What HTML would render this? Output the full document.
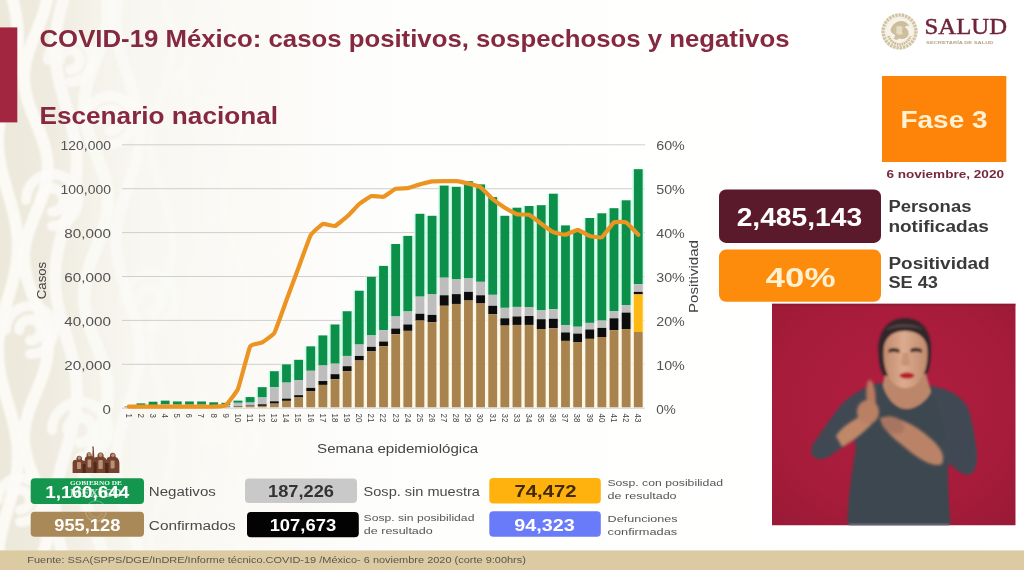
<!DOCTYPE html>
<html lang="es"><head><meta charset="utf-8"><title>COVID-19 México</title>
<style>
html,body{margin:0;padding:0;background:#fff;}
body{width:1024px;height:570px;overflow:hidden;font-family:"Liberation Sans",sans-serif;}
svg{display:block;font-family:"Liberation Sans",sans-serif;}
.ax{font-size:13.3px;fill:#535353;}
.xt{font-size:8.8px;fill:#444;}
.al{font-size:12.3px;fill:#444;}
.t1{font-size:23.6px;font-weight:bold;fill:#86283f;}
.lg{font-size:12.3px;fill:#4a4a4a;}
.ls{font-size:9.9px;fill:#555;}
.num{font-size:16.6px;font-weight:bold;}
.big{font-size:26px;font-weight:bold;}
.side{font-size:16.8px;font-weight:bold;fill:#3a3a3a;}
</style></head><body>
<svg width="1024" height="570" viewBox="0 0 1024 570">
<defs>
<linearGradient id="lg" x1="0" x2="1" y1="0" y2="0">
<stop offset="0" stop-color="#ece8da"/><stop offset="0.05" stop-color="#efebe0"/><stop offset="0.09" stop-color="#f4f2e9"/><stop offset="0.14" stop-color="#f8f7f1"/><stop offset="0.25" stop-color="#fbfaf7"/><stop offset="0.4" stop-color="#fefefd"/><stop offset="1" stop-color="#ffffff"/>
</linearGradient>
<filter id="b3"><feGaussianBlur stdDeviation="3"/></filter>
<filter id="b2"><feGaussianBlur stdDeviation="1.6"/></filter>
<filter id="b1"><feGaussianBlur stdDeviation="0.8"/></filter>
<filter id="b05"><feGaussianBlur stdDeviation="0.35"/></filter>
<filter id="b6"><feGaussianBlur stdDeviation="5"/></filter>
</defs>
<rect width="1024" height="570" fill="url(#lg)"/>
<g fill="none" stroke="#fcfbf7" stroke-linecap="round" stroke-linejoin="round" filter="url(#b1)">
<path d="M10.0 -10.0 L13.3 2.0 L15.9 14.0 L17.6 26.0 L18.0 38.0 L17.1 50.0 L15.1 62.0 L12.1 74.0 L8.7 86.0 L5.1 98.0 L2.0 110.0 L-0.5 122.0 L-1.8 134.0 L-1.9 146.0 L-0.7 158.0 L1.6 170.0 L4.7 182.0 L8.2 194.0 L11.7 206.0 L14.7 218.0 L16.9 230.0 L17.9 242.0 L17.7 254.0 L16.2 266.0 L13.7 278.0 L10.5 290.0 L6.9 302.0 L3.5 314.0 L0.6 326.0 L-1.3 338.0 L-2.0 350.0 L-1.4 362.0 L0.3 374.0 L3.1 386.0 L6.4 398.0 L10.0 410.0 L13.3 422.0 L15.9 434.0 L17.6 446.0 L18.0 458.0 L17.1 470.0 L15.1 482.0 L12.1 494.0 L8.7 506.0 L5.1 518.0 L2.0 530.0 L-0.5 542.0 L-1.8 554.0" stroke-width="12" opacity="0.95"/>
<path d="M48.0 -10.0 L46.5 2.0 L43.3 14.0 L38.8 26.0 L33.8 38.0 L29.2 50.0 L25.8 62.0 L24.1 74.0 L24.5 86.0 L26.9 98.0 L30.9 110.0 L35.7 122.0 L40.6 134.0 L44.7 146.0 L47.3 158.0 L48.0 170.0 L46.5 182.0 L43.3 194.0 L38.8 206.0 L33.8 218.0 L29.2 230.0 L25.8 242.0 L24.1 254.0 L24.5 266.0 L26.9 278.0 L30.9 290.0 L35.7 302.0 L40.6 314.0 L44.7 326.0 L47.3 338.0 L48.0 350.0 L46.5 362.0 L43.3 374.0 L38.8 386.0 L33.8 398.0 L29.2 410.0 L25.8 422.0 L24.1 434.0 L24.5 446.0 L26.9 458.0 L30.9 470.0 L35.7 482.0 L40.6 494.0 L44.7 506.0 L47.3 518.0 L48.0 530.0 L46.5 542.0 L43.3 554.0" stroke-width="12" opacity="0.95"/>
<path d="M66.2 -10.0 L62.6 2.0 L59.4 14.0 L56.9 26.0 L55.4 38.0 L55.0 50.0 L55.8 62.0 L57.7 74.0 L60.4 86.0 L63.7 98.0 L67.3 110.0 L70.8 122.0 L73.7 134.0 L75.8 146.0 L76.9 158.0 L76.8 170.0 L75.6 182.0 L73.3 194.0 L70.3 206.0 L66.8 218.0 L63.2 230.0 L59.9 242.0 L57.3 254.0 L55.6 266.0 L55.0 278.0 L55.6 290.0 L57.3 302.0 L59.9 314.0 L63.2 326.0 L66.7 338.0 L70.2 350.0 L73.3 362.0 L75.5 374.0 L76.8 386.0 L76.9 398.0 L75.8 410.0 L73.7 422.0 L70.8 434.0 L67.4 446.0 L63.8 458.0 L60.4 470.0 L57.7 482.0 L55.8 494.0 L55.0 506.0 L55.4 518.0 L56.9 530.0 L59.4 542.0 L62.6 554.0" stroke-width="12" opacity="0.9"/>
<path d="M105.2 -10.0 L107.4 2.0 L107.9 14.0 L106.6 26.0 L103.6 38.0 L99.4 50.0 L94.7 62.0 L90.2 74.0 L86.6 86.0 L84.4 98.0 L84.1 110.0 L85.6 122.0 L88.7 134.0 L93.0 146.0 L97.7 158.0 L102.2 170.0 L105.7 182.0 L107.7 194.0 L107.8 206.0 L106.2 218.0 L103.0 230.0 L98.6 242.0 L93.9 254.0 L89.5 266.0 L86.1 278.0 L84.3 290.0 L84.2 302.0 L86.0 314.0 L89.4 326.0 L93.7 338.0 L98.5 350.0 L102.8 362.0 L106.1 374.0 L107.8 386.0 L107.7 398.0 L105.8 410.0 L102.3 422.0 L97.9 434.0 L93.1 446.0 L88.9 458.0 L85.7 470.0 L84.1 482.0 L84.4 494.0 L86.5 506.0 L90.0 518.0 L94.5 530.0 L99.2 542.0 L103.5 554.0" stroke-width="12" opacity="0.85"/>
<path d="M120.5 -10.0 L117.8 2.0 L116.3 14.0 L116.1 26.0 L117.3 38.0 L119.8 50.0 L123.2 62.0 L127.2 74.0 L131.2 86.0 L134.9 98.0 L137.8 110.0 L139.6 122.0 L140.0 134.0 L139.0 146.0 L136.7 158.0 L133.4 170.0 L129.5 182.0 L125.4 194.0 L121.6 206.0 L118.6 218.0 L116.6 230.0 L116.0 242.0 L116.8 254.0 L118.8 266.0 L122.0 278.0 L125.8 290.0 L129.9 302.0 L133.8 314.0 L137.0 326.0 L139.1 338.0 L140.0 350.0 L139.5 362.0 L137.6 374.0 L134.6 386.0 L130.9 398.0 L126.8 410.0 L122.8 422.0 L119.5 434.0 L117.1 446.0 L116.1 458.0 L116.4 470.0 L118.0 482.0 L120.8 494.0 L124.5 506.0 L128.5 518.0 L132.5 530.0 L136.0 542.0 L138.5 554.0" stroke-width="11" opacity="0.75"/>
<path d="M160.7 -10.0 L164.9 2.0 L168.6 14.0 L171.4 26.0 L172.8 38.0 L172.8 50.0 L171.2 62.0 L168.4 74.0 L164.6 86.0 L160.5 98.0 L156.6 110.0 L153.4 122.0 L151.5 134.0 L151.0 146.0 L152.1 158.0 L154.6 170.0 L158.1 182.0 L162.1 194.0 L166.2 206.0 L169.6 218.0 L172.0 230.0 L173.0 242.0 L172.4 254.0 L170.4 266.0 L167.2 278.0 L163.3 290.0 L159.1 302.0 L155.4 314.0 L152.6 326.0 L151.2 338.0 L151.2 350.0 L152.8 362.0 L155.6 374.0 L159.4 386.0 L163.5 398.0 L167.4 410.0 L170.6 422.0 L172.5 434.0 L173.0 446.0 L171.9 458.0 L169.4 470.0 L165.9 482.0 L161.9 494.0 L157.8 506.0 L154.4 518.0 L152.0 530.0 L151.0 542.0 L151.6 554.0" stroke-width="8" opacity="0.55"/>
<path d="M205.8 -10.0 L202.6 2.0 L198.9 14.0 L195.2 26.0 L191.7 38.0 L188.8 50.0 L186.9 62.0 L186.0 74.0 L186.3 86.0 L187.8 98.0 L190.2 110.0 L193.4 122.0 L197.1 134.0 L200.8 146.0 L204.3 158.0 L207.2 170.0 L209.1 182.0 L210.0 194.0 L209.7 206.0 L208.2 218.0 L205.8 230.0 L202.6 242.0 L198.9 254.0 L195.2 266.0 L191.7 278.0 L188.8 290.0 L186.9 302.0 L186.0 314.0 L186.3 326.0 L187.8 338.0 L190.2 350.0 L193.4 362.0 L197.1 374.0 L200.8 386.0 L204.3 398.0 L207.2 410.0 L209.1 422.0 L210.0 434.0 L209.7 446.0 L208.2 458.0 L205.8 470.0 L202.6 482.0 L198.9 494.0 L195.2 506.0 L191.7 518.0 L188.8 530.0 L186.9 542.0 L186.0 554.0" stroke-width="8" opacity="0.45"/>
<path d="M225.0 -10.0 L225.7 2.0 L227.6 14.0 L230.7 26.0 L234.4 38.0 L238.3 50.0 L242.0 62.0 L244.8 74.0 L246.6 86.0 L247.0 98.0 L246.0 110.0 L243.7 122.0 L240.4 134.0 L236.6 146.0 L232.7 158.0 L229.2 170.0 L226.6 182.0 L225.2 194.0 L225.2 206.0 L226.5 218.0 L229.0 230.0 L232.5 242.0 L236.4 254.0 L240.2 266.0 L243.5 278.0 L245.9 290.0 L246.9 302.0 L246.6 314.0 L245.0 326.0 L242.2 338.0 L238.6 350.0 L234.6 362.0 L230.9 374.0 L227.8 386.0 L225.7 398.0 L225.0 410.0 L225.7 422.0 L227.6 434.0 L230.7 446.0 L234.4 458.0 L238.3 470.0 L242.0 482.0 L244.8 494.0 L246.6 506.0 L247.0 518.0 L246.0 530.0 L243.7 542.0 L240.4 554.0" stroke-width="8" opacity="0.35"/>
<path d="M283.4 -10.0 L286.5 2.0 L287.9 14.0 L287.5 26.0 L285.3 38.0 L281.6 50.0 L277.1 62.0 L272.4 74.0 L268.2 86.0 L265.3 98.0 L264.0 110.0 L264.6 122.0 L267.0 134.0 L270.7 146.0 L275.3 158.0 L280.0 170.0 L284.1 182.0 L286.9 194.0 L288.0 206.0 L287.3 218.0 L284.8 230.0 L280.9 242.0 L276.3 254.0 L271.6 266.0 L267.7 278.0 L265.0 290.0 L264.0 302.0 L264.9 314.0 L267.5 326.0 L271.4 338.0 L276.1 350.0 L280.7 362.0 L284.6 374.0 L287.2 386.0 L288.0 398.0 L287.0 410.0 L284.2 422.0 L280.2 434.0 L275.5 446.0 L270.9 458.0 L267.1 470.0 L264.7 482.0 L264.0 494.0 L265.2 506.0 L268.1 518.0 L272.2 530.0 L276.9 542.0 L281.4 554.0" stroke-width="8" opacity="0.25"/>
<path d="M322.8 -10.0 L319.0 2.0 L315.1 14.0 L311.5 26.0 L308.6 38.0 L306.7 50.0 L306.0 62.0 L306.6 74.0 L308.4 86.0 L311.2 98.0 L314.7 110.0 L318.6 122.0 L322.4 134.0 L325.8 146.0 L328.3 158.0 L329.7 170.0 L329.9 182.0 L328.8 194.0 L326.6 206.0 L323.4 218.0 L319.7 230.0 L315.8 242.0 L312.1 254.0 L309.0 266.0 L307.0 278.0 L306.0 290.0 L306.4 302.0 L308.0 314.0 L310.6 326.0 L314.1 338.0 L317.9 350.0 L321.8 362.0 L325.3 374.0 L328.0 386.0 L329.6 398.0 L330.0 410.0 L329.1 422.0 L327.0 434.0 L324.0 446.0 L320.3 458.0 L316.4 470.0 L312.7 482.0 L309.5 494.0 L307.2 506.0 L306.1 518.0 L306.2 530.0 L307.6 542.0 L310.1 554.0" stroke-width="8" opacity="0.18"/>
<path d="M26 200 A26 26 0 1 1 52 226 M40.3 200 A11.7 11.7 0 1 1 52 211.7" stroke-width="10" opacity="0.9"/>
<path d="M6 330 A24 24 0 1 1 30 354 M19.2 330 A10.8 10.8 0 1 1 30 340.8" stroke-width="10" opacity="0.9"/>
<path d="M52 430 A28 28 0 1 1 80 458 M67.4 430 A12.6 12.6 0 1 1 80 442.6" stroke-width="10" opacity="0.85"/>
<path d="M86 120 A24 24 0 1 1 110 144 M99.2 120 A10.8 10.8 0 1 1 110 130.8" stroke-width="10" opacity="0.8"/>
<path d="M-2 500 A22 22 0 1 1 20 522 M10.1 500 A9.9 9.9 0 1 1 20 509.9" stroke-width="10" opacity="0.9"/>
<path d="M124 300 A26 26 0 1 1 150 326 M138.3 300 A11.7 11.7 0 1 1 150 311.7" stroke-width="10" opacity="0.55"/>
<path d="M174 90 A26 26 0 1 1 200 116 M188.3 90 A11.7 11.7 0 1 1 200 101.7" stroke-width="10" opacity="0.45"/>
<path d="M48 60 A22 22 0 1 1 70 82 M60.1 60 A9.9 9.9 0 1 1 70 69.9" stroke-width="10" opacity="0.8"/>
<path d="M204 440 A26 26 0 1 1 230 466 M218.3 440 A11.7 11.7 0 1 1 230 451.7" stroke-width="10" opacity="0.35"/>
</g>

<rect x="0" y="27.4" width="17.3" height="95" fill="#a2263f"/>
<rect x="0" y="550.4" width="1024" height="19.6" fill="#dccaa3"/>
<text x="39.5" y="46.8" class="t1" textLength="750" lengthAdjust="spacingAndGlyphs">COVID-19 México: casos positivos, sospechosos y negativos</text>
<text x="39.5" y="124.4" class="t1" style="font-size:23.4px" textLength="238.5" lengthAdjust="spacingAndGlyphs">Escenario nacional</text>
<line x1="122" x2="645" y1="408.2" y2="408.2" stroke="#cfcfcd" stroke-width="1"/>
<line x1="122" x2="645" y1="364.3" y2="364.3" stroke="#cfcfcd" stroke-width="1"/>
<line x1="122" x2="645" y1="320.4" y2="320.4" stroke="#cfcfcd" stroke-width="1"/>
<line x1="122" x2="645" y1="276.5" y2="276.5" stroke="#cfcfcd" stroke-width="1"/>
<line x1="122" x2="645" y1="232.6" y2="232.6" stroke="#cfcfcd" stroke-width="1"/>
<line x1="122" x2="645" y1="188.7" y2="188.7" stroke="#cfcfcd" stroke-width="1"/>
<line x1="122" x2="645" y1="144.8" y2="144.8" stroke="#cfcfcd" stroke-width="1"/>
<g opacity="0.85" filter="url(#b05)"><rect x="231.87" y="400.63" width="12.20" height="2.19" fill="#cdfbe8"/><rect x="231.87" y="402.82" width="12.20" height="3.28" fill="#f3f3f1"/><rect x="231.87" y="406.10" width="12.20" height="0.55" fill="#ecebe8"/><rect x="231.87" y="406.64" width="12.20" height="0.66" fill="#fdf7e3"/><rect x="244.00" y="397.07" width="12.20" height="5.47" fill="#cdfbe8"/><rect x="244.00" y="402.54" width="12.20" height="3.01" fill="#f3f3f1"/><rect x="244.00" y="405.55" width="12.20" height="0.55" fill="#ecebe8"/><rect x="244.00" y="406.10" width="12.20" height="1.20" fill="#fdf7e3"/><rect x="256.13" y="387.18" width="12.20" height="10.26" fill="#cdfbe8"/><rect x="256.13" y="397.45" width="12.20" height="6.84" fill="#f3f3f1"/><rect x="256.13" y="404.29" width="12.20" height="1.60" fill="#ecebe8"/><rect x="256.13" y="405.88" width="12.20" height="1.42" fill="#fdf7e3"/><rect x="268.26" y="371.22" width="12.20" height="15.96" fill="#cdfbe8"/><rect x="268.26" y="387.18" width="12.20" height="14.14" fill="#f3f3f1"/><rect x="268.26" y="401.32" width="12.20" height="2.28" fill="#ecebe8"/><rect x="268.26" y="403.60" width="12.20" height="3.70" fill="#fdf7e3"/><rect x="280.39" y="364.38" width="12.20" height="18.24" fill="#cdfbe8"/><rect x="280.39" y="382.62" width="12.20" height="15.96" fill="#f3f3f1"/><rect x="280.39" y="398.59" width="12.20" height="2.28" fill="#ecebe8"/><rect x="280.39" y="400.87" width="12.20" height="6.43" fill="#fdf7e3"/><rect x="292.52" y="359.82" width="12.20" height="20.52" fill="#cdfbe8"/><rect x="292.52" y="380.34" width="12.20" height="14.82" fill="#f3f3f1"/><rect x="292.52" y="395.17" width="12.20" height="2.28" fill="#ecebe8"/><rect x="292.52" y="397.45" width="12.20" height="9.85" fill="#fdf7e3"/><rect x="304.65" y="346.36" width="12.20" height="24.40" fill="#cdfbe8"/><rect x="304.65" y="370.76" width="12.20" height="17.10" fill="#f3f3f1"/><rect x="304.65" y="387.87" width="12.20" height="3.19" fill="#ecebe8"/><rect x="304.65" y="391.06" width="12.20" height="16.24" fill="#fdf7e3"/><rect x="316.78" y="335.42" width="12.20" height="30.10" fill="#cdfbe8"/><rect x="316.78" y="365.52" width="12.20" height="15.51" fill="#f3f3f1"/><rect x="316.78" y="381.03" width="12.20" height="3.88" fill="#ecebe8"/><rect x="316.78" y="384.90" width="12.20" height="22.40" fill="#fdf7e3"/><rect x="328.91" y="324.47" width="12.20" height="39.22" fill="#cdfbe8"/><rect x="328.91" y="363.69" width="12.20" height="10.49" fill="#f3f3f1"/><rect x="328.91" y="374.18" width="12.20" height="5.02" fill="#ecebe8"/><rect x="328.91" y="379.20" width="12.20" height="28.10" fill="#fdf7e3"/><rect x="341.04" y="311.24" width="12.20" height="44.70" fill="#cdfbe8"/><rect x="341.04" y="355.94" width="12.20" height="10.26" fill="#f3f3f1"/><rect x="341.04" y="366.20" width="12.20" height="5.02" fill="#ecebe8"/><rect x="341.04" y="371.22" width="12.20" height="36.08" fill="#fdf7e3"/><rect x="353.17" y="290.72" width="12.20" height="53.82" fill="#cdfbe8"/><rect x="353.17" y="344.54" width="12.20" height="11.40" fill="#f3f3f1"/><rect x="353.17" y="355.94" width="12.20" height="4.56" fill="#ecebe8"/><rect x="353.17" y="360.50" width="12.20" height="46.80" fill="#fdf7e3"/><rect x="365.30" y="276.90" width="12.20" height="58.52" fill="#cdfbe8"/><rect x="365.30" y="335.42" width="12.20" height="11.40" fill="#f3f3f1"/><rect x="365.30" y="346.82" width="12.20" height="4.56" fill="#ecebe8"/><rect x="365.30" y="351.38" width="12.20" height="55.92" fill="#fdf7e3"/><rect x="377.43" y="265.90" width="12.20" height="64.27" fill="#cdfbe8"/><rect x="377.43" y="330.17" width="12.20" height="11.40" fill="#f3f3f1"/><rect x="377.43" y="341.57" width="12.20" height="4.56" fill="#ecebe8"/><rect x="377.43" y="346.13" width="12.20" height="61.17" fill="#fdf7e3"/><rect x="389.56" y="244.00" width="12.20" height="72.49" fill="#cdfbe8"/><rect x="389.56" y="316.49" width="12.20" height="12.09" fill="#f3f3f1"/><rect x="389.56" y="328.57" width="12.20" height="5.70" fill="#ecebe8"/><rect x="389.56" y="334.28" width="12.20" height="73.02" fill="#fdf7e3"/><rect x="401.69" y="235.90" width="12.20" height="75.57" fill="#cdfbe8"/><rect x="401.69" y="311.47" width="12.20" height="13.00" fill="#f3f3f1"/><rect x="401.69" y="324.47" width="12.20" height="6.39" fill="#ecebe8"/><rect x="401.69" y="330.86" width="12.20" height="76.44" fill="#fdf7e3"/><rect x="413.82" y="213.80" width="12.20" height="82.85" fill="#cdfbe8"/><rect x="413.82" y="296.65" width="12.20" height="17.10" fill="#f3f3f1"/><rect x="413.82" y="313.75" width="12.20" height="6.84" fill="#ecebe8"/><rect x="413.82" y="320.59" width="12.20" height="86.71" fill="#fdf7e3"/><rect x="425.95" y="215.80" width="12.20" height="78.57" fill="#cdfbe8"/><rect x="425.95" y="294.37" width="12.20" height="20.52" fill="#f3f3f1"/><rect x="425.95" y="314.89" width="12.20" height="7.30" fill="#ecebe8"/><rect x="425.95" y="322.19" width="12.20" height="85.11" fill="#fdf7e3"/><rect x="438.08" y="185.60" width="12.20" height="92.10" fill="#cdfbe8"/><rect x="438.08" y="277.70" width="12.20" height="17.58" fill="#f3f3f1"/><rect x="438.08" y="295.28" width="12.20" height="10.49" fill="#ecebe8"/><rect x="438.08" y="305.77" width="12.20" height="101.53" fill="#fdf7e3"/><rect x="450.21" y="186.80" width="12.20" height="92.60" fill="#cdfbe8"/><rect x="450.21" y="279.40" width="12.20" height="14.74" fill="#f3f3f1"/><rect x="450.21" y="294.14" width="12.20" height="9.81" fill="#ecebe8"/><rect x="450.21" y="303.95" width="12.20" height="103.35" fill="#fdf7e3"/><rect x="462.34" y="181.20" width="12.20" height="97.20" fill="#cdfbe8"/><rect x="462.34" y="278.40" width="12.20" height="13.46" fill="#f3f3f1"/><rect x="462.34" y="291.86" width="12.20" height="8.67" fill="#ecebe8"/><rect x="462.34" y="300.52" width="12.20" height="106.78" fill="#fdf7e3"/><rect x="474.47" y="184.40" width="12.20" height="97.42" fill="#cdfbe8"/><rect x="474.47" y="281.82" width="12.20" height="13.45" fill="#f3f3f1"/><rect x="474.47" y="295.28" width="12.20" height="8.21" fill="#ecebe8"/><rect x="474.47" y="303.49" width="12.20" height="103.81" fill="#fdf7e3"/><rect x="486.60" y="197.10" width="12.20" height="97.72" fill="#cdfbe8"/><rect x="486.60" y="294.82" width="12.20" height="10.95" fill="#f3f3f1"/><rect x="486.60" y="305.77" width="12.20" height="8.44" fill="#ecebe8"/><rect x="486.60" y="314.21" width="12.20" height="93.09" fill="#fdf7e3"/><rect x="498.73" y="215.80" width="12.20" height="92.02" fill="#cdfbe8"/><rect x="498.73" y="307.82" width="12.20" height="10.49" fill="#f3f3f1"/><rect x="498.73" y="318.31" width="12.20" height="7.30" fill="#ecebe8"/><rect x="498.73" y="325.61" width="12.20" height="81.69" fill="#fdf7e3"/><rect x="510.86" y="207.70" width="12.20" height="99.21" fill="#cdfbe8"/><rect x="510.86" y="306.91" width="12.20" height="9.58" fill="#f3f3f1"/><rect x="510.86" y="316.49" width="12.20" height="8.44" fill="#ecebe8"/><rect x="510.86" y="324.93" width="12.20" height="82.37" fill="#fdf7e3"/><rect x="522.99" y="206.00" width="12.20" height="101.37" fill="#cdfbe8"/><rect x="522.99" y="307.37" width="12.20" height="8.67" fill="#f3f3f1"/><rect x="522.99" y="316.03" width="12.20" height="8.89" fill="#ecebe8"/><rect x="522.99" y="324.93" width="12.20" height="82.37" fill="#fdf7e3"/><rect x="535.12" y="205.20" width="12.20" height="105.13" fill="#cdfbe8"/><rect x="535.12" y="310.33" width="12.20" height="8.89" fill="#f3f3f1"/><rect x="535.12" y="319.22" width="12.20" height="9.81" fill="#ecebe8"/><rect x="535.12" y="329.03" width="12.20" height="78.27" fill="#fdf7e3"/><rect x="547.25" y="193.70" width="12.20" height="115.49" fill="#cdfbe8"/><rect x="547.25" y="309.19" width="12.20" height="9.58" fill="#f3f3f1"/><rect x="547.25" y="318.77" width="12.20" height="9.58" fill="#ecebe8"/><rect x="547.25" y="328.35" width="12.20" height="78.95" fill="#fdf7e3"/><rect x="559.38" y="225.40" width="12.20" height="99.75" fill="#cdfbe8"/><rect x="559.38" y="325.15" width="12.20" height="7.30" fill="#f3f3f1"/><rect x="559.38" y="332.45" width="12.20" height="8.44" fill="#ecebe8"/><rect x="559.38" y="340.89" width="12.20" height="66.41" fill="#fdf7e3"/><rect x="571.51" y="229.80" width="12.20" height="96.95" fill="#cdfbe8"/><rect x="571.51" y="326.75" width="12.20" height="6.84" fill="#f3f3f1"/><rect x="571.51" y="333.59" width="12.20" height="8.44" fill="#ecebe8"/><rect x="571.51" y="342.03" width="12.20" height="65.27" fill="#fdf7e3"/><rect x="583.64" y="218.00" width="12.20" height="104.87" fill="#cdfbe8"/><rect x="583.64" y="322.87" width="12.20" height="6.61" fill="#f3f3f1"/><rect x="583.64" y="329.49" width="12.20" height="9.35" fill="#ecebe8"/><rect x="583.64" y="338.84" width="12.20" height="68.46" fill="#fdf7e3"/><rect x="595.77" y="213.30" width="12.20" height="107.29" fill="#cdfbe8"/><rect x="595.77" y="320.59" width="12.20" height="7.30" fill="#f3f3f1"/><rect x="595.77" y="327.89" width="12.20" height="9.12" fill="#ecebe8"/><rect x="595.77" y="337.01" width="12.20" height="70.29" fill="#fdf7e3"/><rect x="607.90" y="208.20" width="12.20" height="103.04" fill="#cdfbe8"/><rect x="607.90" y="311.24" width="12.20" height="7.07" fill="#f3f3f1"/><rect x="607.90" y="318.31" width="12.20" height="11.86" fill="#ecebe8"/><rect x="607.90" y="330.17" width="12.20" height="77.13" fill="#fdf7e3"/><rect x="620.03" y="200.30" width="12.20" height="104.79" fill="#cdfbe8"/><rect x="620.03" y="305.09" width="12.20" height="7.53" fill="#f3f3f1"/><rect x="620.03" y="312.61" width="12.20" height="16.42" fill="#ecebe8"/><rect x="620.03" y="329.03" width="12.20" height="78.27" fill="#fdf7e3"/><rect x="632.16" y="169.20" width="12.20" height="114.90" fill="#cdfbe8"/><rect x="632.16" y="284.10" width="12.20" height="7.75" fill="#f3f3f1"/><rect x="632.16" y="291.86" width="12.20" height="2.51" fill="#ecebe8"/><rect x="632.16" y="294.37" width="12.20" height="37.63" fill="#fff4d0"/><rect x="632.16" y="332.00" width="12.20" height="75.30" fill="#fdf7e3"/></g>
<rect x="123.50" y="405.60" width="10.600000000000001" height="1.70" fill="#d8f3e2" opacity="0.0"/>
<rect x="124.40" y="406.10" width="8.8" height="0.27" fill="#0c9049"/>
<rect x="124.40" y="406.37" width="8.8" height="0.27" fill="#bdbdbd"/>
<rect x="124.40" y="406.64" width="8.8" height="0.66" fill="#a8834e"/>
<rect x="135.63" y="402.86" width="10.600000000000001" height="4.44" fill="#d8f3e2" opacity="0.0"/>
<rect x="136.53" y="403.36" width="8.8" height="2.19" fill="#0c9049"/>
<rect x="136.53" y="405.55" width="8.8" height="0.82" fill="#bdbdbd"/>
<rect x="136.53" y="406.37" width="8.8" height="0.27" fill="#0c0c0c"/>
<rect x="136.53" y="406.64" width="8.8" height="0.66" fill="#a8834e"/>
<rect x="147.76" y="401.22" width="10.600000000000001" height="6.08" fill="#d8f3e2" opacity="0.0"/>
<rect x="148.66" y="401.72" width="8.8" height="3.28" fill="#0c9049"/>
<rect x="148.66" y="405.00" width="8.8" height="1.37" fill="#bdbdbd"/>
<rect x="148.66" y="406.37" width="8.8" height="0.27" fill="#0c0c0c"/>
<rect x="148.66" y="406.64" width="8.8" height="0.66" fill="#a8834e"/>
<rect x="159.89" y="400.13" width="10.600000000000001" height="7.17" fill="#d8f3e2" opacity="0.0"/>
<rect x="160.79" y="400.63" width="8.8" height="3.83" fill="#0c9049"/>
<rect x="160.79" y="404.46" width="8.8" height="1.91" fill="#bdbdbd"/>
<rect x="160.79" y="406.37" width="8.8" height="0.27" fill="#0c0c0c"/>
<rect x="160.79" y="406.64" width="8.8" height="0.66" fill="#a8834e"/>
<rect x="172.02" y="400.95" width="10.600000000000001" height="6.35" fill="#d8f3e2" opacity="0.0"/>
<rect x="172.92" y="401.45" width="8.8" height="3.28" fill="#0c9049"/>
<rect x="172.92" y="404.73" width="8.8" height="1.64" fill="#bdbdbd"/>
<rect x="172.92" y="406.37" width="8.8" height="0.27" fill="#0c0c0c"/>
<rect x="172.92" y="406.64" width="8.8" height="0.66" fill="#a8834e"/>
<rect x="184.15" y="400.95" width="10.600000000000001" height="6.35" fill="#d8f3e2" opacity="0.0"/>
<rect x="185.05" y="401.45" width="8.8" height="3.28" fill="#0c9049"/>
<rect x="185.05" y="404.73" width="8.8" height="1.64" fill="#bdbdbd"/>
<rect x="185.05" y="406.37" width="8.8" height="0.27" fill="#0c0c0c"/>
<rect x="185.05" y="406.64" width="8.8" height="0.66" fill="#a8834e"/>
<rect x="196.28" y="400.95" width="10.600000000000001" height="6.35" fill="#d8f3e2" opacity="0.0"/>
<rect x="197.18" y="401.45" width="8.8" height="3.28" fill="#0c9049"/>
<rect x="197.18" y="404.73" width="8.8" height="1.64" fill="#bdbdbd"/>
<rect x="197.18" y="406.37" width="8.8" height="0.27" fill="#0c0c0c"/>
<rect x="197.18" y="406.64" width="8.8" height="0.66" fill="#a8834e"/>
<rect x="208.41" y="401.77" width="10.600000000000001" height="5.53" fill="#d8f3e2" opacity="0.0"/>
<rect x="209.31" y="402.27" width="8.8" height="2.73" fill="#0c9049"/>
<rect x="209.31" y="405.00" width="8.8" height="1.37" fill="#bdbdbd"/>
<rect x="209.31" y="406.37" width="8.8" height="0.27" fill="#0c0c0c"/>
<rect x="209.31" y="406.64" width="8.8" height="0.66" fill="#a8834e"/>
<rect x="220.54" y="402.32" width="10.600000000000001" height="4.98" fill="#d8f3e2" opacity="0.0"/>
<rect x="221.44" y="402.82" width="8.8" height="2.46" fill="#0c9049"/>
<rect x="221.44" y="405.28" width="8.8" height="1.09" fill="#bdbdbd"/>
<rect x="221.44" y="406.37" width="8.8" height="0.27" fill="#0c0c0c"/>
<rect x="221.44" y="406.64" width="8.8" height="0.66" fill="#a8834e"/>
<rect x="232.67" y="400.13" width="10.600000000000001" height="7.17" fill="#d8f3e2" opacity="0.0"/>
<rect x="233.57" y="400.63" width="8.8" height="2.19" fill="#0c9049"/>
<rect x="233.57" y="402.82" width="8.8" height="3.28" fill="#bdbdbd"/>
<rect x="233.57" y="406.10" width="8.8" height="0.55" fill="#0c0c0c"/>
<rect x="233.57" y="406.64" width="8.8" height="0.66" fill="#a8834e"/>
<rect x="244.80" y="396.57" width="10.600000000000001" height="10.73" fill="#d8f3e2" opacity="0.0"/>
<rect x="245.70" y="397.07" width="8.8" height="5.47" fill="#0c9049"/>
<rect x="245.70" y="402.54" width="8.8" height="3.01" fill="#bdbdbd"/>
<rect x="245.70" y="405.55" width="8.8" height="0.55" fill="#0c0c0c"/>
<rect x="245.70" y="406.10" width="8.8" height="1.20" fill="#a8834e"/>
<rect x="256.93" y="386.68" width="10.600000000000001" height="20.62" fill="#d8f3e2" opacity="0.0"/>
<rect x="257.83" y="387.18" width="8.8" height="10.26" fill="#0c9049"/>
<rect x="257.83" y="397.45" width="8.8" height="6.84" fill="#bdbdbd"/>
<rect x="257.83" y="404.29" width="8.8" height="1.60" fill="#0c0c0c"/>
<rect x="257.83" y="405.88" width="8.8" height="1.42" fill="#a8834e"/>
<rect x="269.06" y="370.72" width="10.600000000000001" height="36.58" fill="#d8f3e2" opacity="0.0"/>
<rect x="269.96" y="371.22" width="8.8" height="15.96" fill="#0c9049"/>
<rect x="269.96" y="387.18" width="8.8" height="14.14" fill="#bdbdbd"/>
<rect x="269.96" y="401.32" width="8.8" height="2.28" fill="#0c0c0c"/>
<rect x="269.96" y="403.60" width="8.8" height="3.70" fill="#a8834e"/>
<rect x="281.19" y="363.88" width="10.600000000000001" height="43.42" fill="#d8f3e2" opacity="0.0"/>
<rect x="282.09" y="364.38" width="8.8" height="18.24" fill="#0c9049"/>
<rect x="282.09" y="382.62" width="8.8" height="15.96" fill="#bdbdbd"/>
<rect x="282.09" y="398.59" width="8.8" height="2.28" fill="#0c0c0c"/>
<rect x="282.09" y="400.87" width="8.8" height="6.43" fill="#a8834e"/>
<rect x="293.32" y="359.32" width="10.600000000000001" height="47.98" fill="#d8f3e2" opacity="0.0"/>
<rect x="294.22" y="359.82" width="8.8" height="20.52" fill="#0c9049"/>
<rect x="294.22" y="380.34" width="8.8" height="14.82" fill="#bdbdbd"/>
<rect x="294.22" y="395.17" width="8.8" height="2.28" fill="#0c0c0c"/>
<rect x="294.22" y="397.45" width="8.8" height="9.85" fill="#a8834e"/>
<rect x="305.45" y="345.86" width="10.600000000000001" height="61.44" fill="#d8f3e2" opacity="0.0"/>
<rect x="306.35" y="346.36" width="8.8" height="24.40" fill="#0c9049"/>
<rect x="306.35" y="370.76" width="8.8" height="17.10" fill="#bdbdbd"/>
<rect x="306.35" y="387.87" width="8.8" height="3.19" fill="#0c0c0c"/>
<rect x="306.35" y="391.06" width="8.8" height="16.24" fill="#a8834e"/>
<rect x="317.58" y="334.92" width="10.600000000000001" height="72.38" fill="#d8f3e2" opacity="0.0"/>
<rect x="318.48" y="335.42" width="8.8" height="30.10" fill="#0c9049"/>
<rect x="318.48" y="365.52" width="8.8" height="15.51" fill="#bdbdbd"/>
<rect x="318.48" y="381.03" width="8.8" height="3.88" fill="#0c0c0c"/>
<rect x="318.48" y="384.90" width="8.8" height="22.40" fill="#a8834e"/>
<rect x="329.71" y="323.97" width="10.600000000000001" height="83.33" fill="#d8f3e2" opacity="0.0"/>
<rect x="330.61" y="324.47" width="8.8" height="39.22" fill="#0c9049"/>
<rect x="330.61" y="363.69" width="8.8" height="10.49" fill="#bdbdbd"/>
<rect x="330.61" y="374.18" width="8.8" height="5.02" fill="#0c0c0c"/>
<rect x="330.61" y="379.20" width="8.8" height="28.10" fill="#a8834e"/>
<rect x="341.84" y="310.74" width="10.600000000000001" height="96.56" fill="#d8f3e2" opacity="0.0"/>
<rect x="342.74" y="311.24" width="8.8" height="44.70" fill="#0c9049"/>
<rect x="342.74" y="355.94" width="8.8" height="10.26" fill="#bdbdbd"/>
<rect x="342.74" y="366.20" width="8.8" height="5.02" fill="#0c0c0c"/>
<rect x="342.74" y="371.22" width="8.8" height="36.08" fill="#a8834e"/>
<rect x="353.97" y="290.22" width="10.600000000000001" height="117.08" fill="#d8f3e2" opacity="0.0"/>
<rect x="354.87" y="290.72" width="8.8" height="53.82" fill="#0c9049"/>
<rect x="354.87" y="344.54" width="8.8" height="11.40" fill="#bdbdbd"/>
<rect x="354.87" y="355.94" width="8.8" height="4.56" fill="#0c0c0c"/>
<rect x="354.87" y="360.50" width="8.8" height="46.80" fill="#a8834e"/>
<rect x="366.10" y="276.40" width="10.600000000000001" height="130.90" fill="#d8f3e2" opacity="0.0"/>
<rect x="367.00" y="276.90" width="8.8" height="58.52" fill="#0c9049"/>
<rect x="367.00" y="335.42" width="8.8" height="11.40" fill="#bdbdbd"/>
<rect x="367.00" y="346.82" width="8.8" height="4.56" fill="#0c0c0c"/>
<rect x="367.00" y="351.38" width="8.8" height="55.92" fill="#a8834e"/>
<rect x="378.23" y="265.40" width="10.600000000000001" height="141.90" fill="#d8f3e2" opacity="0.0"/>
<rect x="379.13" y="265.90" width="8.8" height="64.27" fill="#0c9049"/>
<rect x="379.13" y="330.17" width="8.8" height="11.40" fill="#bdbdbd"/>
<rect x="379.13" y="341.57" width="8.8" height="4.56" fill="#0c0c0c"/>
<rect x="379.13" y="346.13" width="8.8" height="61.17" fill="#a8834e"/>
<rect x="390.36" y="243.50" width="10.600000000000001" height="163.80" fill="#d8f3e2" opacity="0.0"/>
<rect x="391.26" y="244.00" width="8.8" height="72.49" fill="#0c9049"/>
<rect x="391.26" y="316.49" width="8.8" height="12.09" fill="#bdbdbd"/>
<rect x="391.26" y="328.57" width="8.8" height="5.70" fill="#0c0c0c"/>
<rect x="391.26" y="334.28" width="8.8" height="73.02" fill="#a8834e"/>
<rect x="402.49" y="235.40" width="10.600000000000001" height="171.90" fill="#d8f3e2" opacity="0.0"/>
<rect x="403.39" y="235.90" width="8.8" height="75.57" fill="#0c9049"/>
<rect x="403.39" y="311.47" width="8.8" height="13.00" fill="#bdbdbd"/>
<rect x="403.39" y="324.47" width="8.8" height="6.39" fill="#0c0c0c"/>
<rect x="403.39" y="330.86" width="8.8" height="76.44" fill="#a8834e"/>
<rect x="414.62" y="213.30" width="10.600000000000001" height="194.00" fill="#d8f3e2" opacity="0.0"/>
<rect x="415.52" y="213.80" width="8.8" height="82.85" fill="#0c9049"/>
<rect x="415.52" y="296.65" width="8.8" height="17.10" fill="#bdbdbd"/>
<rect x="415.52" y="313.75" width="8.8" height="6.84" fill="#0c0c0c"/>
<rect x="415.52" y="320.59" width="8.8" height="86.71" fill="#a8834e"/>
<rect x="426.75" y="215.30" width="10.600000000000001" height="192.00" fill="#d8f3e2" opacity="0.0"/>
<rect x="427.65" y="215.80" width="8.8" height="78.57" fill="#0c9049"/>
<rect x="427.65" y="294.37" width="8.8" height="20.52" fill="#bdbdbd"/>
<rect x="427.65" y="314.89" width="8.8" height="7.30" fill="#0c0c0c"/>
<rect x="427.65" y="322.19" width="8.8" height="85.11" fill="#a8834e"/>
<rect x="438.88" y="185.10" width="10.600000000000001" height="222.20" fill="#d8f3e2" opacity="0.0"/>
<rect x="439.78" y="185.60" width="8.8" height="92.10" fill="#0c9049"/>
<rect x="439.78" y="277.70" width="8.8" height="17.58" fill="#bdbdbd"/>
<rect x="439.78" y="295.28" width="8.8" height="10.49" fill="#0c0c0c"/>
<rect x="439.78" y="305.77" width="8.8" height="101.53" fill="#a8834e"/>
<rect x="451.01" y="186.30" width="10.600000000000001" height="221.00" fill="#d8f3e2" opacity="0.0"/>
<rect x="451.91" y="186.80" width="8.8" height="92.60" fill="#0c9049"/>
<rect x="451.91" y="279.40" width="8.8" height="14.74" fill="#bdbdbd"/>
<rect x="451.91" y="294.14" width="8.8" height="9.81" fill="#0c0c0c"/>
<rect x="451.91" y="303.95" width="8.8" height="103.35" fill="#a8834e"/>
<rect x="463.14" y="180.70" width="10.600000000000001" height="226.60" fill="#d8f3e2" opacity="0.0"/>
<rect x="464.04" y="181.20" width="8.8" height="97.20" fill="#0c9049"/>
<rect x="464.04" y="278.40" width="8.8" height="13.46" fill="#bdbdbd"/>
<rect x="464.04" y="291.86" width="8.8" height="8.67" fill="#0c0c0c"/>
<rect x="464.04" y="300.52" width="8.8" height="106.78" fill="#a8834e"/>
<rect x="475.27" y="183.90" width="10.600000000000001" height="223.40" fill="#d8f3e2" opacity="0.0"/>
<rect x="476.17" y="184.40" width="8.8" height="97.42" fill="#0c9049"/>
<rect x="476.17" y="281.82" width="8.8" height="13.45" fill="#bdbdbd"/>
<rect x="476.17" y="295.28" width="8.8" height="8.21" fill="#0c0c0c"/>
<rect x="476.17" y="303.49" width="8.8" height="103.81" fill="#a8834e"/>
<rect x="487.40" y="196.60" width="10.600000000000001" height="210.70" fill="#d8f3e2" opacity="0.0"/>
<rect x="488.30" y="197.10" width="8.8" height="97.72" fill="#0c9049"/>
<rect x="488.30" y="294.82" width="8.8" height="10.95" fill="#bdbdbd"/>
<rect x="488.30" y="305.77" width="8.8" height="8.44" fill="#0c0c0c"/>
<rect x="488.30" y="314.21" width="8.8" height="93.09" fill="#a8834e"/>
<rect x="499.53" y="215.30" width="10.600000000000001" height="192.00" fill="#d8f3e2" opacity="0.0"/>
<rect x="500.43" y="215.80" width="8.8" height="92.02" fill="#0c9049"/>
<rect x="500.43" y="307.82" width="8.8" height="10.49" fill="#bdbdbd"/>
<rect x="500.43" y="318.31" width="8.8" height="7.30" fill="#0c0c0c"/>
<rect x="500.43" y="325.61" width="8.8" height="81.69" fill="#a8834e"/>
<rect x="511.66" y="207.20" width="10.600000000000001" height="200.10" fill="#d8f3e2" opacity="0.0"/>
<rect x="512.56" y="207.70" width="8.8" height="99.21" fill="#0c9049"/>
<rect x="512.56" y="306.91" width="8.8" height="9.58" fill="#bdbdbd"/>
<rect x="512.56" y="316.49" width="8.8" height="8.44" fill="#0c0c0c"/>
<rect x="512.56" y="324.93" width="8.8" height="82.37" fill="#a8834e"/>
<rect x="523.79" y="205.50" width="10.600000000000001" height="201.80" fill="#d8f3e2" opacity="0.0"/>
<rect x="524.69" y="206.00" width="8.8" height="101.37" fill="#0c9049"/>
<rect x="524.69" y="307.37" width="8.8" height="8.67" fill="#bdbdbd"/>
<rect x="524.69" y="316.03" width="8.8" height="8.89" fill="#0c0c0c"/>
<rect x="524.69" y="324.93" width="8.8" height="82.37" fill="#a8834e"/>
<rect x="535.92" y="204.70" width="10.600000000000001" height="202.60" fill="#d8f3e2" opacity="0.0"/>
<rect x="536.82" y="205.20" width="8.8" height="105.13" fill="#0c9049"/>
<rect x="536.82" y="310.33" width="8.8" height="8.89" fill="#bdbdbd"/>
<rect x="536.82" y="319.22" width="8.8" height="9.81" fill="#0c0c0c"/>
<rect x="536.82" y="329.03" width="8.8" height="78.27" fill="#a8834e"/>
<rect x="548.05" y="193.20" width="10.600000000000001" height="214.10" fill="#d8f3e2" opacity="0.0"/>
<rect x="548.95" y="193.70" width="8.8" height="115.49" fill="#0c9049"/>
<rect x="548.95" y="309.19" width="8.8" height="9.58" fill="#bdbdbd"/>
<rect x="548.95" y="318.77" width="8.8" height="9.58" fill="#0c0c0c"/>
<rect x="548.95" y="328.35" width="8.8" height="78.95" fill="#a8834e"/>
<rect x="560.18" y="224.90" width="10.600000000000001" height="182.40" fill="#d8f3e2" opacity="0.0"/>
<rect x="561.08" y="225.40" width="8.8" height="99.75" fill="#0c9049"/>
<rect x="561.08" y="325.15" width="8.8" height="7.30" fill="#bdbdbd"/>
<rect x="561.08" y="332.45" width="8.8" height="8.44" fill="#0c0c0c"/>
<rect x="561.08" y="340.89" width="8.8" height="66.41" fill="#a8834e"/>
<rect x="572.31" y="229.30" width="10.600000000000001" height="178.00" fill="#d8f3e2" opacity="0.0"/>
<rect x="573.21" y="229.80" width="8.8" height="96.95" fill="#0c9049"/>
<rect x="573.21" y="326.75" width="8.8" height="6.84" fill="#bdbdbd"/>
<rect x="573.21" y="333.59" width="8.8" height="8.44" fill="#0c0c0c"/>
<rect x="573.21" y="342.03" width="8.8" height="65.27" fill="#a8834e"/>
<rect x="584.44" y="217.50" width="10.600000000000001" height="189.80" fill="#d8f3e2" opacity="0.0"/>
<rect x="585.34" y="218.00" width="8.8" height="104.87" fill="#0c9049"/>
<rect x="585.34" y="322.87" width="8.8" height="6.61" fill="#bdbdbd"/>
<rect x="585.34" y="329.49" width="8.8" height="9.35" fill="#0c0c0c"/>
<rect x="585.34" y="338.84" width="8.8" height="68.46" fill="#a8834e"/>
<rect x="596.57" y="212.80" width="10.600000000000001" height="194.50" fill="#d8f3e2" opacity="0.0"/>
<rect x="597.47" y="213.30" width="8.8" height="107.29" fill="#0c9049"/>
<rect x="597.47" y="320.59" width="8.8" height="7.30" fill="#bdbdbd"/>
<rect x="597.47" y="327.89" width="8.8" height="9.12" fill="#0c0c0c"/>
<rect x="597.47" y="337.01" width="8.8" height="70.29" fill="#a8834e"/>
<rect x="608.70" y="207.70" width="10.600000000000001" height="199.60" fill="#d8f3e2" opacity="0.0"/>
<rect x="609.60" y="208.20" width="8.8" height="103.04" fill="#0c9049"/>
<rect x="609.60" y="311.24" width="8.8" height="7.07" fill="#bdbdbd"/>
<rect x="609.60" y="318.31" width="8.8" height="11.86" fill="#0c0c0c"/>
<rect x="609.60" y="330.17" width="8.8" height="77.13" fill="#a8834e"/>
<rect x="620.83" y="199.80" width="10.600000000000001" height="207.50" fill="#d8f3e2" opacity="0.0"/>
<rect x="621.73" y="200.30" width="8.8" height="104.79" fill="#0c9049"/>
<rect x="621.73" y="305.09" width="8.8" height="7.53" fill="#bdbdbd"/>
<rect x="621.73" y="312.61" width="8.8" height="16.42" fill="#0c0c0c"/>
<rect x="621.73" y="329.03" width="8.8" height="78.27" fill="#a8834e"/>
<rect x="632.96" y="168.70" width="10.600000000000001" height="238.60" fill="#d8f3e2" opacity="0.0"/>
<rect x="633.86" y="169.20" width="8.8" height="114.90" fill="#0c9049"/>
<rect x="633.86" y="284.10" width="8.8" height="7.75" fill="#bdbdbd"/>
<rect x="633.86" y="291.86" width="8.8" height="2.51" fill="#0c0c0c"/>
<rect x="633.86" y="294.37" width="8.8" height="37.63" fill="#fdb813"/>
<rect x="633.86" y="332.00" width="8.8" height="75.30" fill="#a8834e"/>
<path d="M128.8 406.7 C129.4 406.7 139.7 406.7 140.9 406.7 C142.1 406.7 151.8 406.7 153.1 406.7 C154.3 406.7 164.0 406.7 165.2 406.7 C166.4 406.7 176.1 406.7 177.3 406.7 C178.5 406.7 188.2 406.7 189.5 406.7 C190.7 406.7 200.4 406.7 201.6 406.7 C202.8 406.7 212.5 406.8 213.7 406.7 C214.9 406.6 224.6 406.2 225.8 405.3 C227.1 404.4 236.8 391.8 238.0 388.9 C239.2 386.0 248.9 348.8 250.1 346.5 C251.3 344.2 261.0 343.1 262.2 342.4 C263.4 341.7 273.1 334.9 274.4 332.8 C275.6 330.7 285.3 303.3 286.5 300.0 C287.7 296.7 297.4 270.8 298.6 267.5 C299.8 264.2 309.5 237.2 310.8 235.0 C312.0 232.8 321.7 224.3 322.9 223.9 C324.1 223.5 333.8 226.4 335.0 226.0 C336.2 225.6 345.9 217.6 347.1 216.5 C348.4 215.4 358.1 205.0 359.3 204.0 C360.5 203.0 370.2 196.4 371.4 196.0 C372.6 195.6 382.3 197.2 383.5 196.8 C384.7 196.4 394.4 189.2 395.7 188.8 C396.9 188.4 406.6 188.3 407.8 188.1 C409.0 187.9 418.7 184.7 419.9 184.4 C421.1 184.1 430.8 181.6 432.1 181.4 C433.3 181.2 443.0 181.2 444.2 181.2 C445.4 181.2 455.1 181.1 456.3 181.2 C457.5 181.3 467.2 183.3 468.4 183.6 C469.7 183.9 479.4 186.5 480.6 187.3 C481.8 188.1 491.5 198.1 492.7 199.1 C493.9 200.1 503.6 206.9 504.8 207.7 C506.0 208.5 515.7 213.9 517.0 214.3 C518.2 214.7 527.9 214.3 529.1 214.8 C530.3 215.3 540.0 222.8 541.2 223.7 C542.4 224.6 552.1 231.6 553.4 232.2 C554.6 232.8 564.3 234.8 565.5 234.7 C566.7 234.6 576.4 229.7 577.6 229.8 C578.8 229.9 588.5 235.5 589.7 235.9 C591.0 236.3 600.7 237.9 601.9 237.2 C603.1 236.5 612.8 223.1 614.0 222.4 C615.2 221.7 624.9 221.8 626.1 222.4 C627.3 223.0 637.7 234.1 638.3 234.7" fill="none" stroke="#ec9422" stroke-width="4.2" stroke-linejoin="round" stroke-linecap="round"/>
<text x="102.5" y="413.6" class="ax" textLength="8.4" lengthAdjust="spacingAndGlyphs">0</text>
<text x="64.3" y="369.7" class="ax" textLength="46.6" lengthAdjust="spacingAndGlyphs">20,000</text>
<text x="64.3" y="325.8" class="ax" textLength="46.6" lengthAdjust="spacingAndGlyphs">40,000</text>
<text x="64.3" y="281.9" class="ax" textLength="46.6" lengthAdjust="spacingAndGlyphs">60,000</text>
<text x="64.3" y="238.0" class="ax" textLength="46.6" lengthAdjust="spacingAndGlyphs">80,000</text>
<text x="60.5" y="194.1" class="ax" textLength="50.4" lengthAdjust="spacingAndGlyphs">100,000</text>
<text x="60.5" y="150.2" class="ax" textLength="50.4" lengthAdjust="spacingAndGlyphs">120,000</text>
<text x="656.2" y="413.6" class="ax" textLength="19.5" lengthAdjust="spacingAndGlyphs">0%</text>
<text x="656.2" y="369.7" class="ax" textLength="28.6" lengthAdjust="spacingAndGlyphs">10%</text>
<text x="656.2" y="325.8" class="ax" textLength="28.6" lengthAdjust="spacingAndGlyphs">20%</text>
<text x="656.2" y="281.9" class="ax" textLength="28.6" lengthAdjust="spacingAndGlyphs">30%</text>
<text x="656.2" y="238.0" class="ax" textLength="28.6" lengthAdjust="spacingAndGlyphs">40%</text>
<text x="656.2" y="194.1" class="ax" textLength="28.6" lengthAdjust="spacingAndGlyphs">50%</text>
<text x="656.2" y="150.2" class="ax" textLength="28.6" lengthAdjust="spacingAndGlyphs">60%</text>
<text transform="translate(125.6,413.6) rotate(90)" class="xt" textLength="4.4" lengthAdjust="spacingAndGlyphs">1</text>
<text transform="translate(137.7,413.6) rotate(90)" class="xt" textLength="4.4" lengthAdjust="spacingAndGlyphs">2</text>
<text transform="translate(149.9,413.6) rotate(90)" class="xt" textLength="4.4" lengthAdjust="spacingAndGlyphs">3</text>
<text transform="translate(162.0,413.6) rotate(90)" class="xt" textLength="4.4" lengthAdjust="spacingAndGlyphs">4</text>
<text transform="translate(174.1,413.6) rotate(90)" class="xt" textLength="4.4" lengthAdjust="spacingAndGlyphs">5</text>
<text transform="translate(186.3,413.6) rotate(90)" class="xt" textLength="4.4" lengthAdjust="spacingAndGlyphs">6</text>
<text transform="translate(198.4,413.6) rotate(90)" class="xt" textLength="4.4" lengthAdjust="spacingAndGlyphs">7</text>
<text transform="translate(210.5,413.6) rotate(90)" class="xt" textLength="4.4" lengthAdjust="spacingAndGlyphs">8</text>
<text transform="translate(222.6,413.6) rotate(90)" class="xt" textLength="4.4" lengthAdjust="spacingAndGlyphs">9</text>
<text transform="translate(234.8,413.6) rotate(90)" class="xt" textLength="8.9" lengthAdjust="spacingAndGlyphs">10</text>
<text transform="translate(246.9,413.6) rotate(90)" class="xt" textLength="8.9" lengthAdjust="spacingAndGlyphs">11</text>
<text transform="translate(259.0,413.6) rotate(90)" class="xt" textLength="8.9" lengthAdjust="spacingAndGlyphs">12</text>
<text transform="translate(271.2,413.6) rotate(90)" class="xt" textLength="8.9" lengthAdjust="spacingAndGlyphs">13</text>
<text transform="translate(283.3,413.6) rotate(90)" class="xt" textLength="8.9" lengthAdjust="spacingAndGlyphs">14</text>
<text transform="translate(295.4,413.6) rotate(90)" class="xt" textLength="8.9" lengthAdjust="spacingAndGlyphs">15</text>
<text transform="translate(307.6,413.6) rotate(90)" class="xt" textLength="8.9" lengthAdjust="spacingAndGlyphs">16</text>
<text transform="translate(319.7,413.6) rotate(90)" class="xt" textLength="8.9" lengthAdjust="spacingAndGlyphs">17</text>
<text transform="translate(331.8,413.6) rotate(90)" class="xt" textLength="8.9" lengthAdjust="spacingAndGlyphs">18</text>
<text transform="translate(343.9,413.6) rotate(90)" class="xt" textLength="8.9" lengthAdjust="spacingAndGlyphs">19</text>
<text transform="translate(356.1,413.6) rotate(90)" class="xt" textLength="8.9" lengthAdjust="spacingAndGlyphs">20</text>
<text transform="translate(368.2,413.6) rotate(90)" class="xt" textLength="8.9" lengthAdjust="spacingAndGlyphs">21</text>
<text transform="translate(380.3,413.6) rotate(90)" class="xt" textLength="8.9" lengthAdjust="spacingAndGlyphs">22</text>
<text transform="translate(392.5,413.6) rotate(90)" class="xt" textLength="8.9" lengthAdjust="spacingAndGlyphs">23</text>
<text transform="translate(404.6,413.6) rotate(90)" class="xt" textLength="8.9" lengthAdjust="spacingAndGlyphs">24</text>
<text transform="translate(416.7,413.6) rotate(90)" class="xt" textLength="8.9" lengthAdjust="spacingAndGlyphs">25</text>
<text transform="translate(428.9,413.6) rotate(90)" class="xt" textLength="8.9" lengthAdjust="spacingAndGlyphs">26</text>
<text transform="translate(441.0,413.6) rotate(90)" class="xt" textLength="8.9" lengthAdjust="spacingAndGlyphs">27</text>
<text transform="translate(453.1,413.6) rotate(90)" class="xt" textLength="8.9" lengthAdjust="spacingAndGlyphs">28</text>
<text transform="translate(465.2,413.6) rotate(90)" class="xt" textLength="8.9" lengthAdjust="spacingAndGlyphs">29</text>
<text transform="translate(477.4,413.6) rotate(90)" class="xt" textLength="8.9" lengthAdjust="spacingAndGlyphs">30</text>
<text transform="translate(489.5,413.6) rotate(90)" class="xt" textLength="8.9" lengthAdjust="spacingAndGlyphs">31</text>
<text transform="translate(501.6,413.6) rotate(90)" class="xt" textLength="8.9" lengthAdjust="spacingAndGlyphs">32</text>
<text transform="translate(513.8,413.6) rotate(90)" class="xt" textLength="8.9" lengthAdjust="spacingAndGlyphs">33</text>
<text transform="translate(525.9,413.6) rotate(90)" class="xt" textLength="8.9" lengthAdjust="spacingAndGlyphs">34</text>
<text transform="translate(538.0,413.6) rotate(90)" class="xt" textLength="8.9" lengthAdjust="spacingAndGlyphs">35</text>
<text transform="translate(550.1,413.6) rotate(90)" class="xt" textLength="8.9" lengthAdjust="spacingAndGlyphs">36</text>
<text transform="translate(562.3,413.6) rotate(90)" class="xt" textLength="8.9" lengthAdjust="spacingAndGlyphs">37</text>
<text transform="translate(574.4,413.6) rotate(90)" class="xt" textLength="8.9" lengthAdjust="spacingAndGlyphs">38</text>
<text transform="translate(586.5,413.6) rotate(90)" class="xt" textLength="8.9" lengthAdjust="spacingAndGlyphs">39</text>
<text transform="translate(598.7,413.6) rotate(90)" class="xt" textLength="8.9" lengthAdjust="spacingAndGlyphs">40</text>
<text transform="translate(610.8,413.6) rotate(90)" class="xt" textLength="8.9" lengthAdjust="spacingAndGlyphs">41</text>
<text transform="translate(622.9,413.6) rotate(90)" class="xt" textLength="8.9" lengthAdjust="spacingAndGlyphs">42</text>
<text transform="translate(635.1,413.6) rotate(90)" class="xt" textLength="8.9" lengthAdjust="spacingAndGlyphs">43</text>
<text transform="translate(45.8,299.2) rotate(-90)" class="al" textLength="37.4" lengthAdjust="spacingAndGlyphs">Casos</text>
<text transform="translate(698.3,313) rotate(-90)" class="al" textLength="73" lengthAdjust="spacingAndGlyphs">Positividad</text>
<text x="397.6" y="452.9" text-anchor="middle" class="al" textLength="161" lengthAdjust="spacingAndGlyphs">Semana epidemiológica</text>
<!-- legend -->
<rect x="30.7" y="478.3" width="113.3" height="25.7" rx="4" fill="#14964f"/>
<rect x="30.7" y="511.7" width="113.3" height="25" rx="4" fill="#a98957"/>
<text x="87.3" y="498.2" text-anchor="middle" class="num" fill="#fff" textLength="84" lengthAdjust="spacingAndGlyphs">1,160,644</text>
<text x="87.3" y="531.2" text-anchor="middle" class="num" fill="#fff" textLength="66" lengthAdjust="spacingAndGlyphs">955,128</text>
<text x="148.8" y="495.9" class="lg" textLength="67" lengthAdjust="spacingAndGlyphs">Negativos</text>
<text x="148.8" y="529.9" class="lg" textLength="87" lengthAdjust="spacingAndGlyphs">Confirmados</text>
<rect x="245" y="478.4" width="112" height="24.6" rx="4" fill="#c9c9c9"/>
<rect x="247" y="512.1" width="111.8" height="25.1" rx="4" fill="#030303"/>
<text x="301" y="497.2" text-anchor="middle" class="num" fill="#333" textLength="66" lengthAdjust="spacingAndGlyphs">187,226</text>
<text x="302.9" y="531" text-anchor="middle" class="num" fill="#fff" textLength="66.5" lengthAdjust="spacingAndGlyphs">107,673</text>
<text x="363.6" y="495.9" class="lg" textLength="116.3" lengthAdjust="spacingAndGlyphs">Sosp. sin muestra</text>
<text x="363.6" y="521.4" class="ls" textLength="110.8" lengthAdjust="spacingAndGlyphs">Sosp. sin posibilidad</text>
<text x="363.8" y="534.4" class="ls" textLength="69" lengthAdjust="spacingAndGlyphs">de resultado</text>
<rect x="489.3" y="478" width="111.5" height="25.5" rx="4" fill="#ffb20e"/>
<rect x="489.3" y="511.2" width="111.5" height="25.5" rx="4" fill="#697bf8"/>
<text x="545.5" y="497" text-anchor="middle" class="num" fill="#40290c" textLength="62" lengthAdjust="spacingAndGlyphs">74,472</text>
<text x="544.6" y="530.8" text-anchor="middle" class="num" fill="#fff" textLength="60.5" lengthAdjust="spacingAndGlyphs">94,323</text>
<text x="607.4" y="486.2" class="ls" textLength="115.6" lengthAdjust="spacingAndGlyphs">Sosp. con posibilidad</text>
<text x="607.6" y="499.3" class="ls" textLength="69" lengthAdjust="spacingAndGlyphs">de resultado</text>
<text x="607.6" y="521.5" class="ls" textLength="70" lengthAdjust="spacingAndGlyphs">Defunciones</text>
<text x="607.6" y="534.5" class="ls" textLength="69.6" lengthAdjust="spacingAndGlyphs">confirmadas</text>
<text x="27.3" y="563.1" style="font-size:8.9px;fill:#5a564c" textLength="498.6" lengthAdjust="spacingAndGlyphs">Fuente: SSA(SPPS/DGE/InDRE/Informe técnico.COVID-19 /México- 6 noviembre 2020 (corte 9:00hrs)</text>
<g>
<g filter="url(#b05)">
<path d="M72.6 473 L72.6 463 C73 460 75 459 76.4 460.4 C76 457.4 77.4 455.6 79.4 455.8 C81.4 456 82.4 457.8 82 460 L84.6 461 C84.6 458 85.4 456.6 86.6 456.4 C86 453.8 87.4 452 89.4 452.2 C91 452.4 92 454 91.6 456 L92.4 456.4 L92.6 449 L92.2 446.6 L93.6 446.4 L93.8 449 L94.4 458 C95.4 457 96.6 456.8 97.6 457.4 C97 454.6 98.4 452.4 100.6 452.4 C102.8 452.4 104 454.4 103.6 457 C105 457.4 106 458.6 106.4 460 C107 457.6 108.4 456.6 110 456.8 C109.6 454.2 111 452.6 113 452.8 C115 453 116 454.8 115.6 457 C118 457.8 119.4 460 119.4 463 L119.4 473 Z" fill="#74432f"/>
<g fill="#b79277">
<circle cx="79.3" cy="458" r="1.7"/><circle cx="89.3" cy="454.6" r="1.8"/><circle cx="100.6" cy="455" r="1.9"/><circle cx="112.9" cy="455.2" r="1.8"/>
<rect x="77" y="462" width="4" height="7" rx="1"/><rect x="98.4" y="460" width="4.4" height="9" rx="1"/><rect x="110.6" y="460.6" width="4" height="8" rx="1"/><rect x="87.6" y="459.4" width="3.6" height="8" rx="1"/>
</g>
<g fill="#4f2a1f"><rect x="82.6" y="464" width="3" height="9"/><rect x="93.6" y="462" width="3" height="11"/><rect x="105" y="463" width="3.6" height="10"/></g>
</g>
<circle cx="95.9" cy="511" r="10.2" fill="none" stroke="#ffffff" stroke-width="1.2" opacity="0.22"/>
<circle cx="95.9" cy="511" r="6.6" fill="none" stroke="#ffffff" stroke-width="2.4" stroke-dasharray="1.4 1.2" opacity="0.16"/>
</g>
<text x="95.9" y="484.5" text-anchor="middle" style="font-family:'Liberation Serif',serif;font-size:6.4px;font-weight:bold;fill:#eafff2" textLength="52" lengthAdjust="spacingAndGlyphs">GOBIERNO DE</text>
<text x="95.9" y="497.4" text-anchor="middle" style="font-family:'Liberation Serif',serif;font-size:12px;font-weight:bold;fill:#fff;opacity:0.7" textLength="52" lengthAdjust="spacingAndGlyphs">MÉXICO</text>
<!-- right panel -->
<g>
<circle cx="899.5" cy="31.4" r="18.4" fill="#f4efe2"/>
<circle cx="899.5" cy="31.4" r="16.4" fill="none" stroke="#cbbd9b" stroke-width="3.2" stroke-dasharray="2.2 1.1" opacity="0.9"/>
<circle cx="899.5" cy="31.4" r="13.2" fill="#f7f3e9"/>
<path d="M888.5 36 C890 41 895 44.5 899.5 44.5 C904 44.5 909 41 910.5 36" fill="none" stroke="#c9bb98" stroke-width="2.6" stroke-dasharray="1.6 0.8"/>
<path d="M890.5 30 C892 24 897 20.5 902 21 C905.5 21.4 908 23.4 909.5 26 C907 25.4 905.4 26 905 27.6 C907.6 29 909.4 32 908.4 35 C907 38.6 902.4 39.6 899 38.4 C897.4 40 894.6 40 893.4 38.6 C895 37.6 895.4 36 894.6 34.6 C892.6 34 891 32.4 890.5 30 Z" fill="#cdbf9d"/>
<path d="M896 27 C898 25.6 901 25.6 903 27.4 C901.6 29.4 901.6 32 903 34 C900.6 35.4 897.6 35 896 33 C896.8 31 896.8 29 896 27 Z" fill="#e6dcc3"/>
</g>
<text x="924.6" y="33.8" style="font-family:'Liberation Serif',serif;font-size:22.6px;fill:#6f2339;stroke:#6f2339;stroke-width:0.45px" textLength="82.4" lengthAdjust="spacingAndGlyphs">SALUD</text>
<text x="926.1" y="43.9" style="font-size:4.3px;font-weight:bold;fill:#b5a888" textLength="67.4" lengthAdjust="spacingAndGlyphs">SECRETARÍA DE SALUD</text>
<rect x="882" y="76" width="124.3" height="86" fill="#fe8409"/>
<text x="944" y="128.2" text-anchor="middle" style="font-size:24.4px;font-weight:bold;fill:#fff1d2" textLength="87" lengthAdjust="spacingAndGlyphs">Fase 3</text>
<text x="945.2" y="178.2" text-anchor="middle" style="font-size:11.2px;font-weight:bold;fill:#76293d" textLength="117.6" lengthAdjust="spacingAndGlyphs">6 noviembre, 2020</text>
<rect x="719" y="189.4" width="162" height="53.5" rx="7" fill="#5b1a2b"/>
<text x="799.4" y="225.6" text-anchor="middle" class="big" fill="#fff" textLength="125.5" lengthAdjust="spacingAndGlyphs">2,485,143</text>
<rect x="719" y="249.6" width="162" height="52.2" rx="7" fill="#fd8c0c"/>
<text x="800.5" y="287" text-anchor="middle" style="font-size:28.4px;font-weight:bold;fill:#fff0cf" textLength="70" lengthAdjust="spacingAndGlyphs">40%</text>
<text x="888.4" y="212.2" class="side" textLength="83" lengthAdjust="spacingAndGlyphs">Personas</text>
<text x="888.4" y="232.2" class="side" textLength="100.4" lengthAdjust="spacingAndGlyphs">notificadas</text>
<text x="888.4" y="269.2" class="side" textLength="101.3" lengthAdjust="spacingAndGlyphs">Positividad</text>
<text x="888.4" y="288.2" class="side" textLength="49.5" lengthAdjust="spacingAndGlyphs">SE 43</text>
<g>
<defs>
<clipPath id="pc"><rect x="772" y="303.5" width="243.7" height="222"/></clipPath>
<radialGradient id="pv" cx="0.5" cy="0.45" r="0.75">
<stop offset="0" stop-color="#b01e40"/><stop offset="0.6" stop-color="#a81c3b"/><stop offset="1" stop-color="#981a36"/>
</radialGradient>
<linearGradient id="skin" x1="0" x2="1" y1="0" y2="0">
<stop offset="0" stop-color="#c18a6d"/><stop offset="0.45" stop-color="#dcab8f"/><stop offset="1" stop-color="#c08a6c"/>
</linearGradient>
</defs>
<g clip-path="url(#pc)">
<rect x="772" y="303.5" width="243.7" height="222" fill="url(#pv)"/>
<rect x="772" y="303.5" width="243.7" height="2.2" fill="#7e1a30" opacity="0.55"/>
<g filter="url(#b1)">
<!-- jeans strip -->
<rect x="849" y="522" width="100" height="6" fill="#6a7480"/>
<!-- torso -->
<path d="M847.5 524 C848 498 852 470 856 448 L846 402 C856 393 868 387 880 383 L932 386 C944 389 956 393 965 403 L948 468 C948 490 949 508 950.5 524 Z" fill="#3e4750"/>
<!-- left arm (viewer) upper -->
<path d="M880 383 C866 386 852 394 842 404 C832 416 820 434 812 446 C809 456 816 462 826 458 C840 450 852 440 860 430 L872 404 Z" fill="#404952"/>
<!-- right arm (viewer) -->
<path d="M932 386 C948 389 962 396 968 408 C972 420 976 440 977 456 C977 466 974 474 968 475 C960 474 954 468 948 462 L936 452 L946 436 Z" fill="#404952"/>
<!-- neck + chest -->
<path d="M885 374 L882.8 385 C886 398 896 409 906 409 C916 409 927 401 931 391.7 L926 374 Z" fill="#bb866a"/>
<!-- hair -->
<path d="M878.5 354 C876.5 332 888 318 905 318 C922 318 932.5 332 931 352 C931 362 929 370 927 374 L884 376 C880 370 879 362 878.5 354 Z" fill="#33282a"/>
<path d="M886 330 C892 323 914 322 924 330 C916 326 896 326 886 330 Z" fill="#5a4a48" opacity="0.8"/>
<!-- face -->
<path d="M883.5 350 C884 338 892 331 905 331 C918 331 927 338 927.5 350 C928 364 925 376 917 384 C911 389.5 900 389.5 894 384 C886 376 883 364 883.5 350 Z" fill="url(#skin)"/>
<!-- brows & eyes -->
<path d="M888.5 349.5 C891 347.5 896 347.5 899.5 349.5 L899.5 353 C896 351.5 891 351.5 888.5 353 Z" fill="#4a332c"/>
<path d="M910.5 349 C914 347 919 347.5 922 349.5 L922 353 C919 351.5 914 351.5 910.5 352.5 Z" fill="#4a332c"/>
<path d="M903 353 L901 364 C903 366.5 908 366.5 910 364 L908 353 Z" fill="#c08a6c" opacity="0.7"/>
<!-- lips -->
<ellipse cx="907" cy="375.6" rx="7.4" ry="3" fill="#b81f2c"/>
</g>
<g filter="url(#b2)">
<!-- left bare forearm -->
<path d="M836 436 C842 426 854 420 864 414 L872 424 C864 432 852 442 842 447 Z" fill="#c08868"/>
<!-- raised finger / left hand -->
<ellipse cx="871" cy="397" rx="4.6" ry="17" fill="#b9795f" transform="rotate(-4 871 397)"/>
<ellipse cx="868" cy="412" rx="11" ry="12" fill="#b98064"/>
<!-- right hand / forearm blur -->
<path d="M880 418 C894 414 914 424 930 438 C940 446 946 456 942 464 C934 468 920 460 908 450 C896 440 884 432 880 418 Z" fill="#ba8367"/>
<ellipse cx="893" cy="425" rx="12" ry="8" fill="#a87660" transform="rotate(25 893 425)"/>
</g>
</g>
</g>
</svg>
</body></html>
